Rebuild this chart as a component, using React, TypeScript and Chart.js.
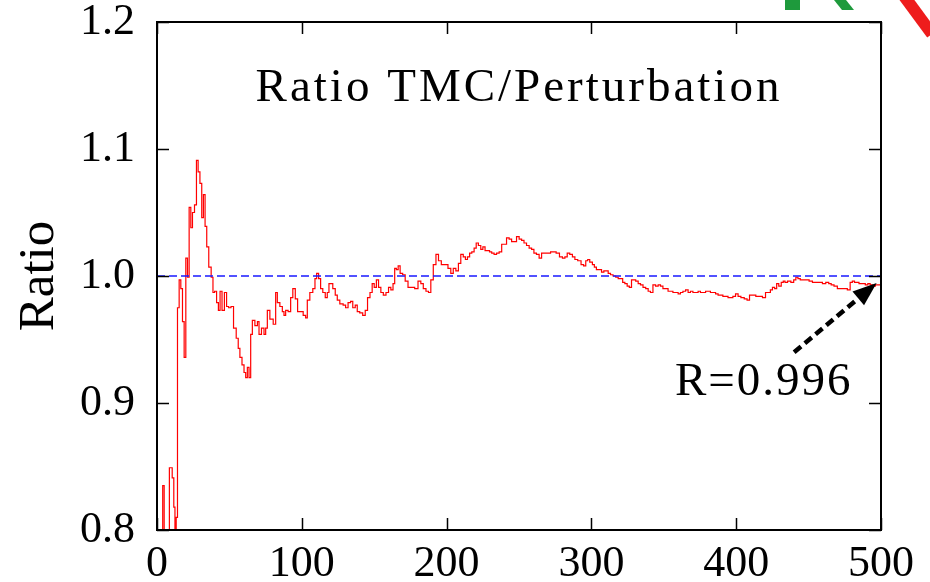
import { useEffect, useRef } from 'react';
import { Chart, registerables } from 'chart.js';

Chart.register(...registerables);

// ---- data ----
const stepX = [
  3.5, 4.4, 5.5, 7.4, 9.7, 11.3, 11.9, 12.9, 13.6, 14.7, 15.9, 17.0, 18.2, 19.3, 20.5, 21.6, 22.8, 23.9, 25.1, 26.7,
  27.8, 29.0, 30.3, 31.5, 32.6, 33.8, 34.9, 36.6, 38.2, 39.1, 40.5, 41.8, 43.0, 44.1, 45.7, 47.4, 48.7, 50.3, 51.9, 53.8,
  55.6, 56.6, 57.9, 59.5, 60.7, 61.8, 63.0, 64.1, 65.3, 66.4, 68.8, 69.9, 71.0, 73.3, 74.5, 75.6, 76.8, 79.1, 81.4, 82.5,
  83.7, 86.0, 87.1, 88.3, 89.4, 91.7, 92.9, 94.7, 96.3, 97.9, 99.8, 102.1, 103.2, 104.4, 106.7, 108.5, 109.7, 110.8, 112.4, 113.6,
  115.4, 117.0, 118.2, 119.3, 120.5, 122.3, 123.9, 125.1, 127.4, 129.7, 130.8, 133.1, 134.3, 136.1, 137.7, 138.9, 141.1, 143.0, 144.6, 146.2,
  148.0, 149.2, 150.8, 152.2, 153.8, 155.4, 157.2, 159.1, 160.7, 162.3, 163.7, 164.6, 166.0, 167.1, 168.7, 170.6, 172.2, 174.5, 176.8, 179.1,
  181.4, 183.0, 184.8, 186.7, 188.3, 189.9, 191.7, 193.6, 195.2, 197.5, 199.8, 202.1, 203.7, 205.5, 207.3, 209.0, 210.6, 212.4, 213.6, 215.2,
  216.6, 218.2, 219.8, 221.1, 222.8, 224.4, 225.7, 227.4, 229.0, 230.3, 232.0, 233.6, 235.4, 237.2, 238.9, 240.5, 242.3, 244.1, 245.7, 247.4,
  249.2, 251.0, 252.6, 254.3, 256.1, 257.9, 259.5, 261.1, 263.0, 264.8, 266.4, 268.7, 271.0, 272.6, 274.5, 276.8, 279.1, 280.9, 282.5, 284.1,
  286.0, 287.8, 289.4, 291.7, 294.0, 295.2, 297.0, 297.9, 299.8, 301.6, 302.5, 304.4, 306.2, 307.8, 309.4, 310.8, 312.4, 314.0, 315.9, 317.7,
  319.3, 320.9, 322.3, 323.9, 325.5, 326.9, 328.5, 329.7, 331.5, 333.1, 334.7, 336.6, 338.4, 340.0, 341.6, 343.4, 345.3, 346.9, 348.5, 350.3,
  352.1, 353.8, 355.4, 357.2, 359.1, 360.7, 362.3, 364.1, 366.0, 367.6, 369.2, 371.0, 372.9, 374.5, 376.1, 377.9, 379.8, 381.4, 383.0, 384.8,
  386.7, 388.3, 389.9, 391.7, 393.5, 395.2, 396.8, 398.6, 400.5, 402.1, 404.4, 406.7, 408.3, 410.1, 412.4, 414.7, 417.0, 419.3, 421.2, 422.8,
  424.4, 425.7, 427.4, 428.5, 430.3, 431.9, 433.1, 434.3, 436.6, 438.9, 440.5, 441.9, 443.4, 445.1, 446.9, 449.2, 451.5, 453.8, 456.1, 458.4,
  460.7, 463.0, 464.8, 466.4, 468.7, 471.0, 473.3, 475.6, 477.9, 479.5, 480.9, 482.5, 483.7, 485.9, 488.2, 490.1, 491.7, 493.3, 495.2, 497.0,
  498.6, 500.0,
];

const ratioValues = [
  0.78, 0.835, 0.795, 0.795, 0.849, 0.841, 0.818, 0.795, 0.81, 0.975, 0.997, 0.99, 0.964, 0.936, 1.014, 0.999, 1.054, 1.038, 1.05, 1.056,
  1.091, 1.082, 1.073, 1.046, 1.064, 1.039, 1.023, 1.007, 0.999, 0.987, 0.988, 0.979, 0.973, 0.988, 0.973, 0.987, 0.976, 0.975, 0.976, 0.959,
  0.951, 0.943, 0.936, 0.93, 0.924, 0.92, 0.928, 0.92, 0.954, 0.965, 0.961, 0.964, 0.954, 0.959, 0.954, 0.959, 0.973, 0.966, 0.962, 0.987,
  0.979, 0.976, 0.972, 0.969, 0.973, 0.972, 0.983, 0.99, 0.982, 0.972, 0.972, 0.969, 0.967, 0.981, 0.987, 0.99, 0.998, 1.002, 0.998, 0.99,
  0.987, 0.983, 0.987, 0.994, 0.994, 0.99, 0.985, 0.981, 0.978, 0.977, 0.975, 0.979, 0.98, 0.975, 0.977, 0.972, 0.971, 0.969, 0.973, 0.983,
  0.987, 0.994, 0.991, 0.997, 0.991, 0.987, 0.985, 0.987, 0.991, 0.989, 0.994, 1.006, 1.005, 1.008, 1.002, 1.001, 0.996, 0.991, 0.991, 0.99,
  0.996, 0.994, 0.99, 0.988, 0.987, 0.997, 1.009, 1.017, 1.012, 1.009, 1.009, 1.006, 1.002, 1.006, 1.004, 1.01, 1.017, 1.015, 1.013, 1.015,
  1.018, 1.019, 1.022, 1.026, 1.024, 1.021, 1.023, 1.02, 1.02, 1.019, 1.018, 1.017, 1.018, 1.019, 1.025, 1.025, 1.03, 1.029, 1.027, 1.027,
  1.031, 1.029, 1.028, 1.026, 1.024, 1.022, 1.021, 1.018, 1.017, 1.014, 1.018, 1.018, 1.018, 1.019, 1.019, 1.018, 1.015, 1.014, 1.015, 1.018,
  1.017, 1.015, 1.013, 1.012, 1.009, 1.008, 1.012, 1.013, 1.011, 1.009, 1.007, 1.005, 1.005, 1.003, 1.004, 1.004, 1.002, 1.001, 1.0, 0.999,
  0.998, 0.998, 0.995, 0.994, 0.992, 0.991, 0.997, 0.997, 0.996, 0.994, 0.993, 0.991, 0.99, 0.988, 0.987, 0.993, 0.992, 0.993, 0.992, 0.99,
  0.99, 0.988, 0.988, 0.987, 0.987, 0.986, 0.987, 0.988, 0.989, 0.987, 0.988, 0.987, 0.987, 0.988, 0.987, 0.987, 0.988, 0.988, 0.987, 0.987,
  0.986, 0.985, 0.985, 0.984, 0.984, 0.983, 0.983, 0.984, 0.986, 0.984, 0.983, 0.982, 0.981, 0.985, 0.985, 0.984, 0.984, 0.983, 0.987, 0.987,
  0.989, 0.991, 0.99, 0.994, 0.992, 0.995, 0.996, 0.995, 0.996, 0.995, 0.997, 0.999, 0.998, 0.997, 0.997, 0.997, 0.996, 0.995, 0.995, 0.995,
  0.994, 0.995, 0.994, 0.993, 0.992, 0.99, 0.99, 0.99, 0.989, 0.995, 0.996, 0.995, 0.995, 0.994, 0.994, 0.993, 0.994, 0.993, 0.992, 0.993,
  0.993, 0.993,
];

const referenceX = [0, 500];
const referenceY = [1.0, 1.0];

const xTicks = [0, 100, 200, 300, 400, 500];
const yTicks = [0.8, 0.9, 1.0, 1.1, 1.2];

const titleText = 'Ratio TMC/Perturbation';
const yAxisTitle = 'Ratio';
const annotationText = 'R=0.996';
const arrowFrom = [440, 0.94];
const arrowTo = [497, 0.9945];
const annotationAnchor = [419, 0.906]; // centre x, text baseline

const FONT = '"Liberation Serif", "Times New Roman", serif';

const decorPlugin = {
  id: 'decor',
  afterDatasetsDraw(chart: any) {
    const { ctx, chartArea: a, scales } = chart;
    const xs = scales.x;
    const ys = scales.y;
    ctx.save();
    // frame
    ctx.strokeStyle = '#000';
    ctx.lineWidth = 2;
    ctx.strokeRect(a.left, a.top, a.right - a.left, a.bottom - a.top);
    // inward ticks on all four sides
    const tl = 12;
    ctx.lineWidth = 1.5;
    ctx.beginPath();
    xTicks.forEach((v) => {
      const px = Math.round(xs.getPixelForValue(v)) + 0.5;
      ctx.moveTo(px, a.bottom);
      ctx.lineTo(px, a.bottom - tl);
      ctx.moveTo(px, a.top);
      ctx.lineTo(px, a.top + tl);
    });
    yTicks.forEach((v) => {
      const py = Math.round(ys.getPixelForValue(v)) + 0.5;
      ctx.moveTo(a.left, py);
      ctx.lineTo(a.left + tl, py);
      ctx.moveTo(a.right, py);
      ctx.lineTo(a.right - tl, py);
    });
    ctx.stroke();

    // title inside plot
    ctx.fillStyle = '#000';
    ctx.font = `47px ${FONT}`;
    ctx.textAlign = 'center';
    ctx.textBaseline = 'alphabetic';
    (ctx as any).letterSpacing = '3px';
    ctx.fillText(titleText, (a.left + a.right) / 2, a.top + 79);

    // annotation text
    (ctx as any).letterSpacing = '2px';
    ctx.fillText(
      annotationText,
      xs.getPixelForValue(annotationAnchor[0]),
      ys.getPixelForValue(annotationAnchor[1])
    );
    (ctx as any).letterSpacing = '0px';

    // dashed arrow
    const x0 = xs.getPixelForValue(arrowFrom[0]);
    const y0 = ys.getPixelForValue(arrowFrom[1]);
    const x1 = xs.getPixelForValue(arrowTo[0]);
    const y1 = ys.getPixelForValue(arrowTo[1]);
    const ang = Math.atan2(y1 - y0, x1 - x0);
    const headLen = 24;
    const headW = 9;
    const bx = x1 - headLen * Math.cos(ang);
    const by = y1 - headLen * Math.sin(ang);
    ctx.setLineDash([9, 5]);
    ctx.lineWidth = 4.5;
    ctx.beginPath();
    ctx.moveTo(x0, y0);
    ctx.lineTo(bx, by);
    ctx.stroke();
    ctx.setLineDash([]);
    ctx.beginPath();
    ctx.moveTo(x1, y1);
    ctx.lineTo(bx + headW * Math.sin(ang), by - headW * Math.cos(ang));
    ctx.lineTo(bx - headW * Math.sin(ang), by + headW * Math.cos(ang));
    ctx.closePath();
    ctx.fill();
    ctx.restore();
  },
  afterDraw(chart: any) {
    // cropped logo fragment in the top-right corner of the source image
    const { ctx } = chart;
    ctx.save();
    ctx.fillStyle = '#1e9a3c';
    ctx.fillRect(785, 0, 15, 10);
    ctx.beginPath();
    ctx.moveTo(834, 0);
    ctx.lineTo(846, 0);
    ctx.lineTo(854, 10);
    ctx.lineTo(842, 10);
    ctx.closePath();
    ctx.fill();
    ctx.strokeStyle = '#ee1c1c';
    ctx.lineWidth = 12;
    ctx.beginPath();
    ctx.moveTo(904, -4);
    ctx.lineTo(932, 34);
    ctx.stroke();
    ctx.restore();
  },
};

export default function App() {
  const ref = useRef<HTMLCanvasElement | null>(null);

  useEffect(() => {
    if (!ref.current) return;
    const chart = new Chart(ref.current, {
      type: 'line',
      data: {
        datasets: [
          {
            label: 'reference',
            data: referenceX.map((x, i) => ({ x, y: referenceY[i] })),
            borderColor: '#1a1aff',
            borderWidth: 1.6,
            borderDash: [8, 4],
            pointRadius: 0,
          },
          {
            label: 'ratio',
            data: stepX.map((x, i) => ({ x, y: ratioValues[i] })),
            borderColor: '#ff0000',
            borderWidth: 1.2,
            stepped: 'middle',
            pointRadius: 0,
          },
        ],
      },
      options: {
        animation: false,
        responsive: false,
        layout: { padding: { top: 22, right: 49, left: 0, bottom: 0 } },
        plugins: { legend: { display: false }, tooltip: { enabled: false }, title: { display: false } },
        scales: {
          x: {
            type: 'linear',
            min: 0,
            max: 500,
            afterBuildTicks: (s: any) => {
              s.ticks = xTicks.map((v) => ({ value: v }));
            },
            afterFit: (s: any) => {
              s.height = 52;
              s.paddingLeft = 0;
              s.paddingRight = 0;
            },
            grid: { display: false, drawTicks: false },
            border: { display: false },
            ticks: {
              color: '#000',
              font: { family: FONT, size: 44 },
              padding: 8,
              maxRotation: 0,
              autoSkip: false,
            },
          },
          y: {
            type: 'linear',
            min: 0.8,
            max: 1.2,
            afterBuildTicks: (s: any) => {
              s.ticks = yTicks.map((v) => ({ value: v }));
            },
            afterFit: (s: any) => {
              s.width = 157;
              s.paddingTop = 0;
              s.paddingBottom = 0;
            },
            grid: { display: false, drawTicks: false },
            border: { display: false },
            title: {
              display: true,
              text: yAxisTitle,
              color: '#000',
              font: { family: FONT, size: 51 },
              padding: { top: 9, bottom: 0 },
            },
            ticks: {
              color: '#000',
              font: { family: FONT, size: 44 },
              padding: 22,
              autoSkip: false,
              callback: (v: any) => Number(v).toFixed(1),
            },
          },
        },
      },
      plugins: [decorPlugin],
    });
    return () => chart.destroy();
  }, []);

  return (
    <div style={{ position: 'fixed', left: 0, top: 0, width: 930, height: 582, background: '#fff' }}>
      <canvas ref={ref} width={930} height={582} style={{ display: 'block' }} />
    </div>
  );
}
